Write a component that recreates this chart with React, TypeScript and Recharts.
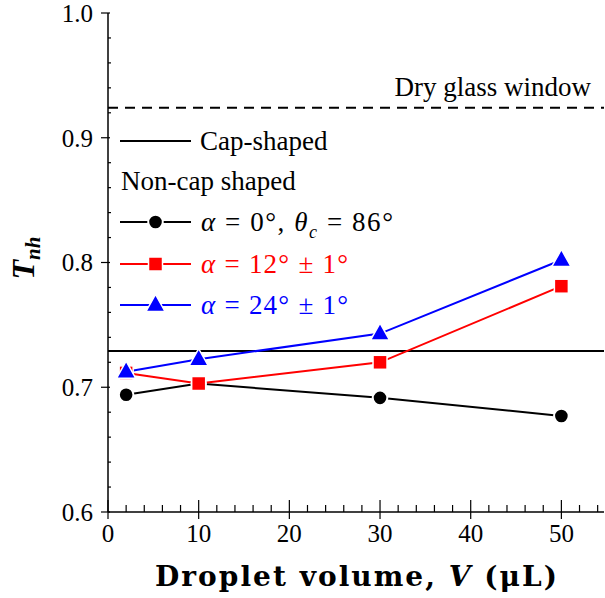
import React from 'react';
import { LineChart, Line, XAxis, YAxis, ReferenceLine, Customized } from 'recharts';

// droplet volume (uL)
const volumes = [2, 10, 30, 50];
// T_nh for the three non-cap shaped series
const tnhAlpha0 = [0.694, 0.703, 0.6915, 0.677];
const tnhAlpha12 = [0.7115, 0.703, 0.72, 0.781];
const tnhAlpha24 = [0.7125, 0.7225, 0.743, 0.802];
// horizontal reference levels
const capShaped = 0.729;
const dryGlass = 0.924;

const xTicks = [0, 2, 4, 6, 8, 10, 12, 14, 16, 18, 20, 22, 24, 26, 28, 30, 32, 34, 36, 38, 40, 42, 44, 46, 48, 50, 52, 54];
const xMajor = [0, 10, 20, 30, 40, 50];
const yTicks = [0.6, 0.62, 0.64, 0.66, 0.68, 0.7, 0.72, 0.74, 0.76, 0.78, 0.8, 0.82, 0.84, 0.86, 0.88, 0.9, 0.92, 0.94, 0.96, 0.98, 1.0];
const yMajor = [0.6, 0.7, 0.8, 0.9, 1.0];

const serif = { fontFamily: '"Liberation Serif", serif' };
const wideSerif = { fontFamily: '"DejaVu Serif", serif' };

const toPoints = (ys: number[]) => volumes.map((v, i) => ({ v, t: ys[i] }));

const isMajor = (list: number[], v: number) => list.some(m => Math.abs(m - v) < 1e-6);

const BottomTick = (p: any) => {
  const { x, y, payload } = p;
  const major = isMajor(xMajor, payload.value);
  return (
    <g>
      <line x1={x} x2={x} y1={y - (major ? 12 : 7)} y2={y + (major ? 7 : 0)} stroke="#000" strokeWidth={1.2} />
      {major && (
        <text x={x} y={y + 30} textAnchor="middle" style={serif} fontSize={25} fill="#000">
          {payload.value}
        </text>
      )}
    </g>
  );
};

const TopTick = (p: any) => {
  const { x, y, payload } = p;
  const major = isMajor(xMajor, payload.value);
  return <line x1={x} x2={x} y1={y} y2={y + (major ? 7 : 3)} stroke="#000" strokeWidth={1.2} />;
};

const LeftTick = (p: any) => {
  const { x, y, payload } = p;
  const major = isMajor(yMajor, payload.value);
  return (
    <g>
      <line x1={x - (major ? 7 : 0)} x2={x + (major ? 2 : 3)} y1={y} y2={y} stroke="#000" strokeWidth={1.2} />
      {major && (
        <text x={x - 15} y={y} dy="0.35em" textAnchor="end" style={serif} fontSize={25} fill="#000">
          {payload.value.toFixed(1)}
        </text>
      )}
    </g>
  );
};

const RightTick = (p: any) => {
  const { x, y, payload } = p;
  const major = isMajor(yMajor, payload.value);
  return <line x1={x - (major ? 6 : 3)} x2={x} y1={y} y2={y} stroke="#000" strokeWidth={1.2} />;
};

const Circle = (p: any) => <circle key={p.index} cx={p.cx} cy={p.cy} r={7.3} fill="#000" stroke="#fff" strokeWidth={2} />;
const Square = (p: any) => <rect key={p.index} x={p.cx - 7} y={p.cy - 7} width={14} height={14} fill="#ff0000" stroke="#fff" strokeWidth={1.5} />;
const Triangle = (p: any) => (
  <polygon key={p.index} points={`${p.cx},${p.cy - 10.5} ${p.cx - 9.5},${p.cy + 6.5} ${p.cx + 9.5},${p.cy + 6.5}`} fill="#0000ff" stroke="#fff" strokeWidth={1.5} />
);

const DryGlassLabel = (p: any) => {
  const vb = p.viewBox;
  return (
    <text x={vb.x + vb.width - 13} y={vb.y - 12} textAnchor="end" style={serif} fontSize={27} fill="#000">
      Dry glass window
    </text>
  );
};

const legendRows = [
  { y: 222, color: '#000', Marker: Circle },
  { y: 264, color: '#ff0000', Marker: Square },
  { y: 305, color: '#0000ff', Marker: Triangle },
];

const Decorations = () => (
  <g style={serif}>
    {/* legend */}
    <line x1={120} x2={191} y1={141} y2={141} stroke="#000" strokeWidth={2} />
    <text x={200} y={141} dy="0.33em" fontSize={27} fill="#000">Cap-shaped</text>
    <text x={121} y={181} dy="0.33em" fontSize={27} fill="#000">Non-cap shaped</text>
    {legendRows.map(({ y, color, Marker }, i) => (
      <g key={i}>
        <line x1={120} x2={191} y1={y} y2={y} stroke={color} strokeWidth={2} />
        <Marker cx={155.5} cy={y} index={i} />
      </g>
    ))}
    <text x={201} y={222} dy="0.33em" fontSize={27} fill="#000" textLength={192}>
      <tspan fontStyle="italic">α</tspan> = 0°, <tspan fontStyle="italic">θ</tspan>
      <tspan fontStyle="italic" fontSize={18} dy={7}>c</tspan>
      <tspan dy={-7}> = 86°</tspan>
    </text>
    <text x={201} y={264} dy="0.33em" fontSize={27} fill="#ff0000" textLength={147}>
      <tspan fontStyle="italic">α</tspan> = 12° ± 1°
    </text>
    <text x={201} y={305} dy="0.33em" fontSize={27} fill="#0000ff" textLength={147}>
      <tspan fontStyle="italic">α</tspan> = 24° ± 1°
    </text>
    {/* axis titles */}
    <text x={356} y={586} textAnchor="middle" style={wideSerif} fontSize={28} fontWeight="bold" fill="#000" textLength={402} lengthAdjust="spacing">
      Droplet volume,  <tspan fontStyle="italic">V</tspan> (μL)
    </text>
    <text x={34} y={258} transform="rotate(-90, 34, 258)" textAnchor="middle" fontWeight="bold" fontStyle="italic" fill="#000">
      <tspan fontSize={32}>T</tspan>
      <tspan fontSize={21} dy={6}>nh</tspan>
    </text>
  </g>
);

export default function App() {
  const axisLine = { stroke: '#000', strokeWidth: 1.5 };
  return (
    <div style={{ position: 'fixed', left: 0, top: 0, background: '#fff', ...serif }}>
      <LineChart width={605} height={598} margin={{ top: 13, right: 1, bottom: 0, left: 0 }}>
        <XAxis xAxisId="b" dataKey="v" type="number" domain={[0, 54.7]} ticks={xTicks} interval={0}
          tickSize={0} tickMargin={0} tickLine={false} axisLine={axisLine} tick={<BottomTick />} height={86} allowDataOverflow />
        <XAxis xAxisId="t" orientation="top" dataKey="v" type="number" domain={[0, 54.7]} ticks={xTicks} interval={0}
          tickSize={0} tickMargin={0} tickLine={false} axisLine={axisLine} tick={<TopTick />} height={0} allowDataOverflow />
        <YAxis yAxisId="l" type="number" domain={[0.6, 1.0]} ticks={yTicks} interval={0}
          tickSize={0} tickMargin={0} tickLine={false} axisLine={axisLine} tick={<LeftTick />} width={108} allowDataOverflow />
        <YAxis yAxisId="r" orientation="right" type="number" domain={[0.6, 1.0]} ticks={yTicks} interval={0}
          tickSize={0} tickMargin={0} tickLine={false} axisLine={axisLine} tick={<RightTick />} width={0} allowDataOverflow />
        <ReferenceLine xAxisId="b" yAxisId="l" y={capShaped} stroke="#000" strokeWidth={2} />
        <ReferenceLine xAxisId="b" yAxisId="l" y={dryGlass} stroke="#000" strokeWidth={2} strokeDasharray="10 7"
          label={<DryGlassLabel />} />
        <Line xAxisId="b" yAxisId="l" data={toPoints(tnhAlpha0)} dataKey="t" stroke="#000" strokeWidth={2}
          dot={<Circle />} isAnimationActive={false} />
        <Line xAxisId="b" yAxisId="l" data={toPoints(tnhAlpha12)} dataKey="t" stroke="#ff0000" strokeWidth={2}
          dot={<Square />} isAnimationActive={false} />
        <Line xAxisId="b" yAxisId="l" data={toPoints(tnhAlpha24)} dataKey="t" stroke="#0000ff" strokeWidth={2}
          dot={<Triangle />} isAnimationActive={false} />
        <Customized component={<Decorations />} />
      </LineChart>
    </div>
  );
}
